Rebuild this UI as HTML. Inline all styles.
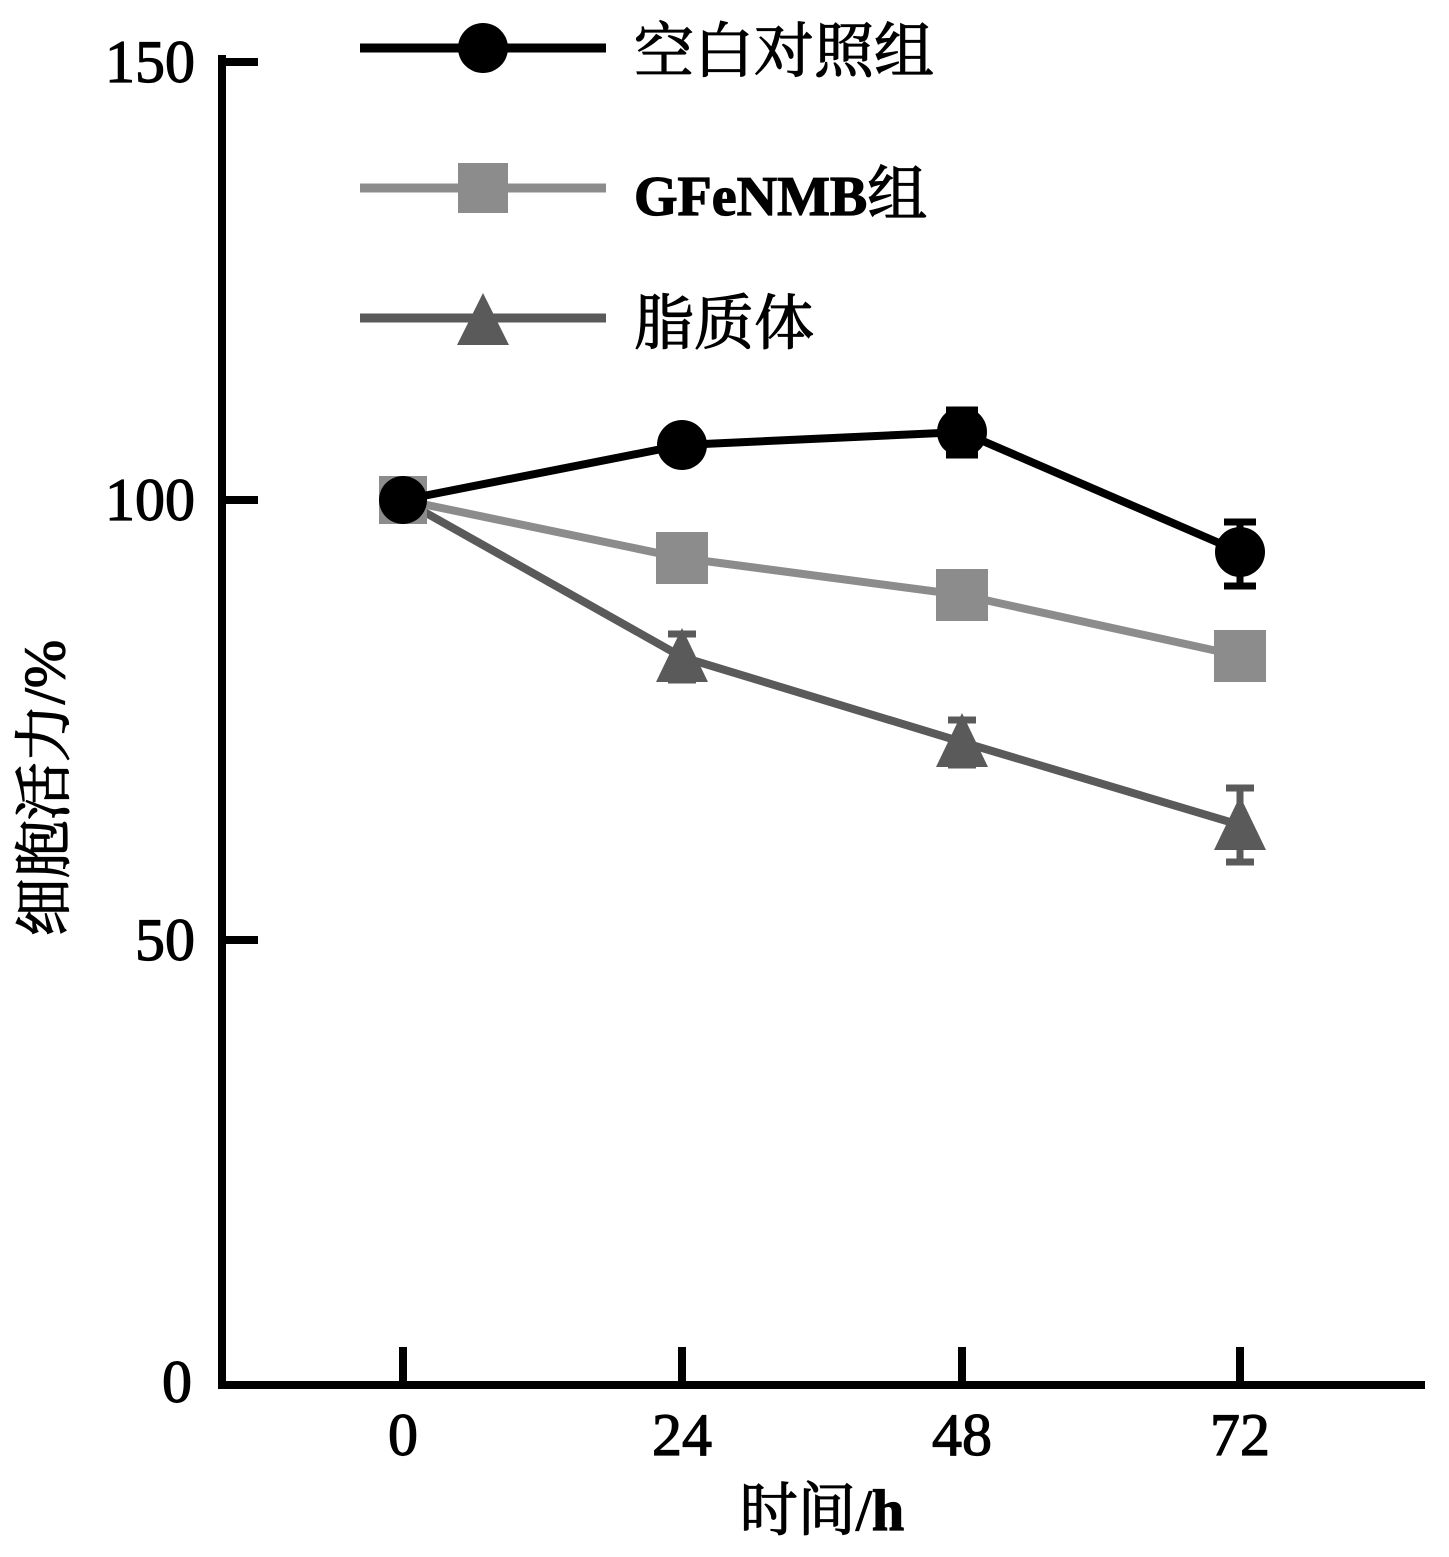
<!DOCTYPE html>
<html><head><meta charset="utf-8"><style>
body{margin:0;background:#fff}
svg text{font-family:"Liberation Serif","Noto Serif CJK SC",serif;fill:#000;stroke:#000;stroke-width:1.2}
</style></head><body>
<svg width="1449" height="1552" viewBox="0 0 1449 1552" xmlns="http://www.w3.org/2000/svg">
<g stroke="#000" stroke-width="8" fill="none">
<polyline points="222,55 222,1385 1425,1385"/>
<line x1="222" y1="62" x2="258" y2="62"/>
<line x1="222" y1="500" x2="258" y2="500"/>
<line x1="222" y1="940" x2="258" y2="940"/>
<line x1="403" y1="1347" x2="403" y2="1385"/>
<line x1="682" y1="1347" x2="682" y2="1385"/>
<line x1="962" y1="1347" x2="962" y2="1385"/>
<line x1="1240" y1="1347" x2="1240" y2="1385"/>
</g>
<g font-size="60" text-anchor="end">
<text x="195" y="82">150</text>
<text x="195" y="520">100</text>
<text x="195" y="960">50</text>
<text x="192" y="1402">0</text>
</g>
<g font-size="60" text-anchor="middle">
<text x="403" y="1455">0</text>
<text x="682" y="1455">24</text>
<text x="962" y="1455">48</text>
<text x="1240" y="1455">72</text>
<text x="822" y="1530" font-size="58">时间/<tspan font-weight="bold">h</tspan></text>
</g>
<text transform="translate(64,788) rotate(-90)" font-size="58" text-anchor="middle">细胞活力/%</text>
<!-- triangle series -->
<g stroke="#5a5a5a" stroke-width="8" fill="#5a5a5a">
<polyline fill="none" points="403,500 682,657 962,742 1240,825"/>
<path d="M682,634V680M668,634H696M668,680H696M962,720V765M948,720H976M948,765H976M1240,788V862M1226,788H1254M1226,862H1254" stroke-width="7"/>
<polygon stroke="none" points="682,628 656,682 708,682"/>
<polygon stroke="none" points="962,713 936,767 988,767"/>
<polygon stroke="none" points="1240,796 1214,850 1266,850"/>
</g>
<!-- square series -->
<g stroke="#8c8c8c" stroke-width="8" fill="#8c8c8c">
<polyline fill="none" points="403,500 682,558 962,595 1240,656"/>
<rect x="379" y="476" width="48" height="48" stroke="none"/>
<rect x="656" y="532" width="52" height="52" stroke="none"/>
<rect x="936" y="569" width="52" height="52" stroke="none"/>
<rect x="1214" y="630" width="52" height="52" stroke="none"/>
</g>
<!-- black series -->
<g stroke="#000" stroke-width="8" fill="#000">
<polyline fill="none" points="403,500 682,445 962,432 1240,552"/>
<path d="M962,410V455M946,410H978M946,455H978M1240,522V586M1224,522H1256M1224,586H1256" stroke-width="7"/>
<circle cx="403" cy="500" r="24" stroke="none"/>
<circle cx="682" cy="445" r="25" stroke="none"/>
<circle cx="962" cy="432" r="25" stroke="none"/>
<circle cx="1240" cy="552" r="25" stroke="none"/>
</g>
<!-- legend -->
<line x1="360" y1="48" x2="606" y2="48" stroke="#000" stroke-width="9"/>
<circle cx="483" cy="48" r="25" fill="#000"/>
<line x1="360" y1="188" x2="606" y2="188" stroke="#8c8c8c" stroke-width="9"/>
<rect x="458" y="163" width="50" height="50" fill="#8c8c8c"/>
<line x1="360" y1="318" x2="606" y2="318" stroke="#5a5a5a" stroke-width="9"/>
<polygon points="483,293 457,345 509,345" fill="#5a5a5a"/>
<g font-size="60">
<text x="634" y="72">空白对照组</text>
<text x="634" y="215" font-weight="bold" font-size="56">GFeNMB<tspan font-weight="normal" font-size="60">组</tspan></text>
<text x="634" y="344">脂质体</text>
</g>
</svg>
</body></html>
